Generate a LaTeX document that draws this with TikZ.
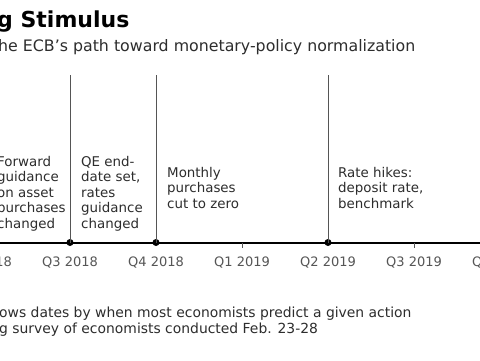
\documentclass[tikz,border=0pt]{standalone}
\usepackage{fontspec}
\setmainfont{DejaVu Sans}
\usetikzlibrary{positioning}
\definecolor{ecbInk}{RGB}{45,45,45}
\definecolor{ecbGray}{RGB}{85,85,85}

\begin{document}
\begin{tikzpicture}[x=1pt, y=-1pt,
  note/.style={anchor=north west, inner sep=0pt, align=left, text=ecbInk,
               font=\fontsize{13.4}{15.5}\selectfont},
  qlabel/.style={anchor=base, inner sep=0pt, text=ecbGray,
                 font=\fontsize{13}{15}\selectfont},
  event/.style={circle, fill=black, inner sep=0pt, minimum size=7pt},
  marker/.style={ecbGray, line width=1pt}
]
  \useasboundingbox (0,0) rectangle (480,360);
  \clip (0,0) rectangle (480,360);
  \fill[white] (0,0) rectangle (480,360);

  % heading
  \node[anchor=base west, inner sep=0pt, font=\bfseries\fontsize{22}{26}\selectfont]
    (title) at (-3,27.5) {g Stimulus};
  \node[anchor=base west, inner sep=0pt, text=ecbInk, font=\fontsize{15.8}{19}\selectfont]
    (subtitle) at (-2,51) {he ECB's path toward monetary-policy normalization};

  % timeline
  \coordinate (start) at (-10,242.5);
  \coordinate (end)   at (490,242.5);
  \draw[line width=2pt] (start) -- (end);

  \node[event] (q3a) at (70,242.5)  {};
  \node[event] (q4a) at (156,242.5) {};
  \node[event] (q2b) at (328,242.5) {};
  \coordinate (q1b) at (242,242.5);
  \coordinate (q3b) at (414,242.5);
  \draw[marker] (q1b) -- ++(0,5.5);
  \draw[marker] (q3b) -- ++(0,5.5);

  \foreach \x/\q in {-16/Q2 2018, 70/Q3 2018, 156/Q4 2018, 242/Q1 2019,
                     328/Q2 2019, 414/Q3 2019, 500/Q4 2019}
    \node[qlabel] at (\x,266) {\q};

  % markers
  \coordinate (top3) at (70,75);
  \coordinate (top4) at (156,75);
  \coordinate (top2) at (328,75);
  \draw[marker] (top3) -- (q3a.center);
  \draw[marker] (top4) -- (q4a.center);
  \draw[marker] (top2) -- (q2b.center);

  % events
  \node[note] (fwd)   at (-3,156)  {Forward\\guidance\\on asset\\purchases\\changed};
  \node[note] (qeend) at (81,156)  {QE end-\\date set,\\rates\\guidance\\changed};
  \node[note] (zero)  at (167,167) {Monthly\\purchases\\cut to zero};
  \node[note] (hikes) at (338,167) {Rate hikes:\\deposit rate,\\benchmark};

  % footnote
  \node[anchor=base west, inner sep=0pt, text=ecbInk,
        font=\fontsize{13.9}{16}\selectfont] (source) at (-1,317)
    {ows dates by when most economists predict a given action};
  \node[anchor=base west, inner sep=0pt, text=ecbInk,
        font=\fontsize{13.9}{16}\selectfont] (survey) at (-1,333.5)
    {g survey of economists conducted Feb. 23-28};
\end{tikzpicture}
\end{document}
